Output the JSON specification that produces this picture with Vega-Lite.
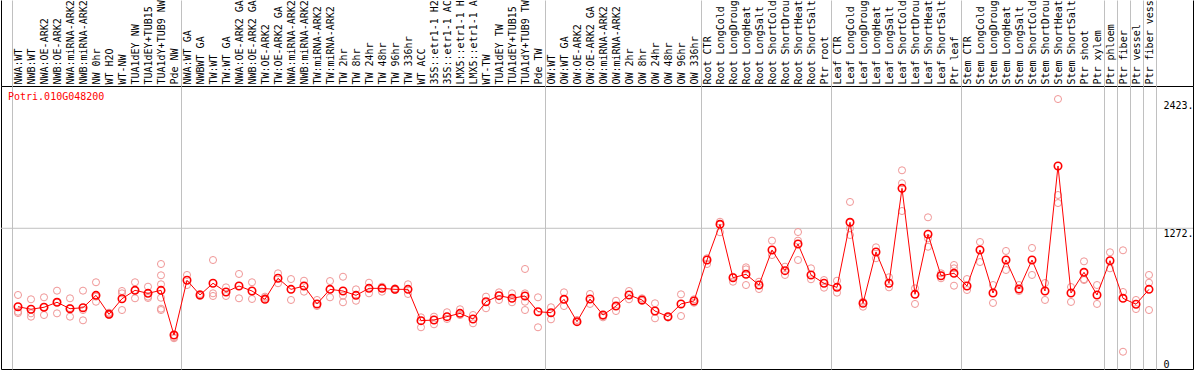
{
  "$schema": "https://vega.github.io/schema/vega-lite/v6.json",
  "width": 1192,
  "height": 283,
  "autosize": {"type": "none"},
  "padding": {"left": 1, "top": 86, "right": 1, "bottom": 1},
  "background": "white",
  "config": {"view": {"stroke": "black", "strokeWidth": 1}, "font": "DejaVu Sans Mono"},
  "datasets": {
    "means": [
      {"col": "01 NWA:WT", "v": 563}, {"col": "02 NWB:WT", "v": 540}, {"col": "03 NWA:OE-ARK2", "v": 558},
      {"col": "04 NWB:OE-ARK2", "v": 603}, {"col": "05 NWA:miRNA-ARK2", "v": 545}, {"col": "06 NWB:miRNA-ARK2", "v": 554},
      {"col": "07 NW 0hr", "v": 666}, {"col": "08 WT H2O", "v": 494}, {"col": "09 WT-NW", "v": 635},
      {"col": "10 TUA1dEY NW", "v": 711}, {"col": "11 TUA1dEY+TUB15", "v": 684}, {"col": "12 TUA1dY+TUB9 NW", "v": 711},
      {"col": "13 Pde NW", "v": 307}, {"col": "14 NWA:WT GA", "v": 802}, {"col": "15 NWBWT GA", "v": 669},
      {"col": "16 TW:WT", "v": 775}, {"col": "17 TW:WT GA", "v": 696}, {"col": "18 NWA:OE-ARK2 GA", "v": 750},
      {"col": "19 NWB:OE-ARK2 GA", "v": 705}, {"col": "20 TW:OE-ARK2", "v": 630}, {"col": "21 TW:OE-ARK2 GA", "v": 820},
      {"col": "22 NWA:miRNA-ARK2", "v": 720}, {"col": "23 NWB:miRNA-ARK2", "v": 750}, {"col": "24 TW:miRNA-ARK2", "v": 588},
      {"col": "25 TW:miRNA-ARK2", "v": 720}, {"col": "26 TW 2hr", "v": 705}, {"col": "27 TW 8hr", "v": 666},
      {"col": "28 TW 24hr", "v": 729}, {"col": "29 TW 48hr", "v": 729}, {"col": "30 TW 96hr", "v": 720},
      {"col": "31 TW 336hr", "v": 720}, {"col": "32 WT ACC", "v": 437}, {"col": "33 35S::etr1-1 H2", "v": 443},
      {"col": "34 35S::etr1-1 AC", "v": 473}, {"col": "35 LMX5::etr1-1 H", "v": 503}, {"col": "36 LMX5::etr1-1 A", "v": 452},
      {"col": "37 WT-TW", "v": 608}, {"col": "38 TUA1dEY TW", "v": 663}, {"col": "39 TUA1dEY+TUB15", "v": 639},
      {"col": "40 TUA1dY+TUB9 TW", "v": 660}, {"col": "41 Pde TW", "v": 518}, {"col": "42 OW:WT", "v": 509},
      {"col": "43 OW:WT GA", "v": 630}, {"col": "44 OW:OE-ARK2", "v": 428}, {"col": "45 OW:OE-ARK2 GA", "v": 633},
      {"col": "46 OW:miRNA-ARK2", "v": 488}, {"col": "47 OW:miRNA-ARK2", "v": 569}, {"col": "48 OW 2hr", "v": 669},
      {"col": "49 OW 8hr", "v": 624}, {"col": "50 OW 24hr", "v": 524}, {"col": "51 OW 48hr", "v": 473},
      {"col": "52 OW 96hr", "v": 588}, {"col": "53 OW 336hr", "v": 615}, {"col": "54 Root CTR", "v": 985},
      {"col": "55 Root LongCold", "v": 1308}, {"col": "56 Root LongDroug", "v": 825}, {"col": "57 Root LongHeat", "v": 856},
      {"col": "58 Root LongSalt", "v": 759}, {"col": "59 Root ShortCold", "v": 1076}, {"col": "60 Root ShortDrou", "v": 889},
      {"col": "61 Root ShortHeat", "v": 1130}, {"col": "62 Root ShortSalt", "v": 850}, {"col": "63 Ptr root", "v": 775},
      {"col": "64 Leaf CTR", "v": 738}, {"col": "65 Leaf LongCold", "v": 1326}, {"col": "66 Leaf LongDroug", "v": 594},
      {"col": "67 Leaf LongHeat", "v": 1058}, {"col": "68 Leaf LongSalt", "v": 775}, {"col": "69 Leaf ShortCold", "v": 1633},
      {"col": "70 Leaf ShortDrou", "v": 675}, {"col": "71 Leaf ShortHeat", "v": 1218}, {"col": "72 Leaf ShortSalt", "v": 843},
      {"col": "73 Ptr leaf", "v": 865}, {"col": "74 Stem CTR", "v": 750}, {"col": "75 Stem LongCold", "v": 1076},
      {"col": "76 Stem LongDroug", "v": 687}, {"col": "77 Stem LongHeat", "v": 985}, {"col": "78 Stem LongSalt", "v": 723},
      {"col": "79 Stem ShortCold", "v": 985}, {"col": "80 Stem ShortDrou", "v": 705}, {"col": "81 Stem ShortHeat", "v": 1835},
      {"col": "82 Stem ShortSalt", "v": 687}, {"col": "83 Ptr shoot", "v": 874}, {"col": "84 Ptr xylem", "v": 669},
      {"col": "85 Ptr phloem", "v": 979}, {"col": "86 Ptr fiber", "v": 639}, {"col": "87 Ptr vessel", "v": 585},
      {"col": "88 Ptr fiber vess", "v": 720}
    ],
    "reps": [
      {"col": "01 NWA:WT", "v": 669}, {"col": "01 NWA:WT", "v": 518}, {"col": "01 NWA:WT", "v": 506},
      {"col": "02 NWB:WT", "v": 630}, {"col": "02 NWB:WT", "v": 503}, {"col": "02 NWB:WT", "v": 473},
      {"col": "03 NWA:OE-ARK2", "v": 648}, {"col": "03 NWA:OE-ARK2", "v": 560}, {"col": "03 NWA:OE-ARK2", "v": 488},
      {"col": "04 NWB:OE-ARK2", "v": 708}, {"col": "04 NWB:OE-ARK2", "v": 606}, {"col": "04 NWB:OE-ARK2", "v": 503},
      {"col": "05 NWA:miRNA-ARK2", "v": 639}, {"col": "05 NWA:miRNA-ARK2", "v": 551}, {"col": "05 NWA:miRNA-ARK2", "v": 473},
      {"col": "06 NWB:miRNA-ARK2", "v": 708}, {"col": "06 NWB:miRNA-ARK2", "v": 533}, {"col": "06 NWB:miRNA-ARK2", "v": 440},
      {"col": "07 NW 0hr", "v": 784}, {"col": "07 NW 0hr", "v": 654}, {"col": "07 NW 0hr", "v": 608},
      {"col": "08 WT H2O", "v": 509}, {"col": "08 WT H2O", "v": 488}, {"col": "08 WT H2O", "v": 502},
      {"col": "09 WT-NW", "v": 705}, {"col": "09 WT-NW", "v": 684}, {"col": "09 WT-NW", "v": 533},
      {"col": "10 TUA1dEY NW", "v": 784}, {"col": "10 TUA1dEY NW", "v": 714}, {"col": "10 TUA1dEY NW", "v": 639},
      {"col": "11 TUA1dEY+TUB15", "v": 744}, {"col": "11 TUA1dEY+TUB15", "v": 654}, {"col": "11 TUA1dEY+TUB15", "v": 642},
      {"col": "12 TUA1dY+TUB9 NW", "v": 949}, {"col": "12 TUA1dY+TUB9 NW", "v": 847}, {"col": "12 TUA1dY+TUB9 NW", "v": 766},
      {"col": "12 TUA1dY+TUB9 NW", "v": 644}, {"col": "12 TUA1dY+TUB9 NW", "v": 545}, {"col": "12 TUA1dY+TUB9 NW", "v": 533},
      {"col": "13 Pde NW", "v": 287}, {"col": "13 Pde NW", "v": 278},
      {"col": "14 NWA:WT GA", "v": 850}, {"col": "14 NWA:WT GA", "v": 759},
      {"col": "15 NWBWT GA", "v": 678}, {"col": "15 NWBWT GA", "v": 660},
      {"col": "16 TW:WT", "v": 985}, {"col": "16 TW:WT", "v": 684}, {"col": "16 TW:WT", "v": 660},
      {"col": "17 TW:WT GA", "v": 738}, {"col": "17 TW:WT GA", "v": 660},
      {"col": "18 NWA:OE-ARK2 GA", "v": 859}, {"col": "18 NWA:OE-ARK2 GA", "v": 639},
      {"col": "19 NWB:OE-ARK2 GA", "v": 784}, {"col": "19 NWB:OE-ARK2 GA", "v": 633},
      {"col": "20 TW:OE-ARK2", "v": 654}, {"col": "20 TW:OE-ARK2", "v": 642},
      {"col": "21 TW:OE-ARK2 GA", "v": 865}, {"col": "21 TW:OE-ARK2 GA", "v": 775},
      {"col": "22 NWA:miRNA-ARK2", "v": 813}, {"col": "22 NWA:miRNA-ARK2", "v": 624},
      {"col": "23 NWB:miRNA-ARK2", "v": 798}, {"col": "23 NWB:miRNA-ARK2", "v": 699},
      {"col": "24 TW:miRNA-ARK2", "v": 624}, {"col": "24 TW:miRNA-ARK2", "v": 569},
      {"col": "25 TW:miRNA-ARK2", "v": 795}, {"col": "25 TW:miRNA-ARK2", "v": 648},
      {"col": "26 TW 2hr", "v": 834}, {"col": "26 TW 2hr", "v": 663}, {"col": "26 TW 2hr", "v": 603},
      {"col": "27 TW 8hr", "v": 720}, {"col": "27 TW 8hr", "v": 617},
      {"col": "28 TW 24hr", "v": 780}, {"col": "28 TW 24hr", "v": 684},
      {"col": "29 TW 48hr", "v": 744}, {"col": "29 TW 48hr", "v": 699},
      {"col": "30 TW 96hr", "v": 729}, {"col": "30 TW 96hr", "v": 714},
      {"col": "31 TW 336hr", "v": 766}, {"col": "31 TW 336hr", "v": 678},
      {"col": "32 WT ACC", "v": 467}, {"col": "32 WT ACC", "v": 377},
      {"col": "33 35S::etr1-1 H2", "v": 473}, {"col": "33 35S::etr1-1 H2", "v": 404},
      {"col": "34 35S::etr1-1 AC", "v": 513}, {"col": "34 35S::etr1-1 AC", "v": 452},
      {"col": "35 LMX5::etr1-1 H", "v": 540}, {"col": "35 LMX5::etr1-1 H", "v": 488},
      {"col": "36 LMX5::etr1-1 A", "v": 488}, {"col": "36 LMX5::etr1-1 A", "v": 413},
      {"col": "37 WT-TW", "v": 654}, {"col": "37 WT-TW", "v": 549},
      {"col": "38 TUA1dEY TW", "v": 693}, {"col": "38 TUA1dEY TW", "v": 624},
      {"col": "39 TUA1dEY+TUB15", "v": 684}, {"col": "39 TUA1dEY+TUB15", "v": 603},
      {"col": "40 TUA1dY+TUB9 TW", "v": 904}, {"col": "40 TUA1dY+TUB9 TW", "v": 684}, {"col": "40 TUA1dY+TUB9 TW", "v": 608}, {"col": "40 TUA1dY+TUB9 TW", "v": 533},
      {"col": "41 Pde TW", "v": 648}, {"col": "41 Pde TW", "v": 377},
      {"col": "42 OW:WT", "v": 558}, {"col": "42 OW:WT", "v": 449},
      {"col": "43 OW:WT GA", "v": 693}, {"col": "43 OW:WT GA", "v": 569},
      {"col": "44 OW:OE-ARK2", "v": 443}, {"col": "44 OW:OE-ARK2", "v": 425},
      {"col": "45 OW:OE-ARK2 GA", "v": 678}, {"col": "45 OW:OE-ARK2 GA", "v": 588},
      {"col": "46 OW:miRNA-ARK2", "v": 467}, {"col": "46 OW:miRNA-ARK2", "v": 479},
      {"col": "47 OW:miRNA-ARK2", "v": 617}, {"col": "47 OW:miRNA-ARK2", "v": 524},
      {"col": "48 OW 2hr", "v": 705}, {"col": "48 OW 2hr", "v": 630},
      {"col": "49 OW 8hr", "v": 639}, {"col": "49 OW 8hr", "v": 615},
      {"col": "50 OW 24hr", "v": 594}, {"col": "50 OW 24hr", "v": 458},
      {"col": "51 OW 48hr", "v": 473}, {"col": "51 OW 48hr", "v": 465},
      {"col": "52 OW 96hr", "v": 675}, {"col": "52 OW 96hr", "v": 479},
      {"col": "53 OW 336hr", "v": 630}, {"col": "53 OW 336hr", "v": 599},
      {"col": "54 Root CTR", "v": 1001}, {"col": "54 Root CTR", "v": 949},
      {"col": "55 Root LongCold", "v": 1331}, {"col": "55 Root LongCold", "v": 1236},
      {"col": "56 Root LongDroug", "v": 789}, {"col": "56 Root LongDroug", "v": 834},
      {"col": "57 Root LongHeat", "v": 919}, {"col": "57 Root LongHeat", "v": 901}, {"col": "57 Root LongHeat", "v": 759},
      {"col": "58 Root LongSalt", "v": 789}, {"col": "58 Root LongSalt", "v": 723},
      {"col": "59 Root ShortCold", "v": 1160}, {"col": "59 Root ShortCold", "v": 1030},
      {"col": "60 Root ShortDrou", "v": 925}, {"col": "60 Root ShortDrou", "v": 850},
      {"col": "61 Root ShortHeat", "v": 1238}, {"col": "61 Root ShortHeat", "v": 1160}, {"col": "61 Root ShortHeat", "v": 985},
      {"col": "62 Root ShortSalt", "v": 910}, {"col": "62 Root ShortSalt", "v": 811},
      {"col": "63 Ptr root", "v": 804}, {"col": "63 Ptr root", "v": 735},
      {"col": "64 Leaf CTR", "v": 798}, {"col": "64 Leaf CTR", "v": 690},
      {"col": "65 Leaf LongCold", "v": 1510}, {"col": "65 Leaf LongCold", "v": 1272}, {"col": "65 Leaf LongCold", "v": 1211},
      {"col": "66 Leaf LongDroug", "v": 563}, {"col": "66 Leaf LongDroug", "v": 608},
      {"col": "67 Leaf LongHeat", "v": 1100}, {"col": "67 Leaf LongHeat", "v": 1001},
      {"col": "68 Leaf LongSalt", "v": 829}, {"col": "68 Leaf LongSalt", "v": 738},
      {"col": "69 Leaf ShortCold", "v": 1796}, {"col": "69 Leaf ShortCold", "v": 1679}, {"col": "69 Leaf ShortCold", "v": 1428},
      {"col": "70 Leaf ShortDrou", "v": 729}, {"col": "70 Leaf ShortDrou", "v": 588},
      {"col": "71 Leaf ShortHeat", "v": 1371}, {"col": "71 Leaf ShortHeat", "v": 1181}, {"col": "71 Leaf ShortHeat", "v": 1105},
      {"col": "72 Leaf ShortSalt", "v": 865}, {"col": "72 Leaf ShortSalt", "v": 820},
      {"col": "73 Ptr leaf", "v": 940}, {"col": "73 Ptr leaf", "v": 910}, {"col": "73 Ptr leaf", "v": 753},
      {"col": "74 Stem CTR", "v": 813}, {"col": "74 Stem CTR", "v": 714},
      {"col": "75 Stem LongCold", "v": 1148}, {"col": "75 Stem LongCold", "v": 967},
      {"col": "76 Stem LongDroug", "v": 759}, {"col": "76 Stem LongDroug", "v": 597},
      {"col": "77 Stem LongHeat", "v": 1067}, {"col": "77 Stem LongHeat", "v": 895},
      {"col": "78 Stem LongSalt", "v": 759}, {"col": "78 Stem LongSalt", "v": 705},
      {"col": "79 Stem ShortCold", "v": 1094}, {"col": "79 Stem ShortCold", "v": 850},
      {"col": "80 Stem ShortDrou", "v": 777}, {"col": "80 Stem ShortDrou", "v": 624},
      {"col": "81 Stem ShortHeat", "v": 2440}, {"col": "81 Stem ShortHeat", "v": 1573}, {"col": "81 Stem ShortHeat", "v": 1500},
      {"col": "82 Stem ShortSalt", "v": 741}, {"col": "82 Stem ShortSalt", "v": 606},
      {"col": "83 Ptr shoot", "v": 973}, {"col": "83 Ptr shoot", "v": 811}, {"col": "83 Ptr shoot", "v": 804},
      {"col": "84 Ptr xylem", "v": 759}, {"col": "84 Ptr xylem", "v": 588},
      {"col": "85 Ptr phloem", "v": 1055}, {"col": "85 Ptr phloem", "v": 910},
      {"col": "86 Ptr fiber", "v": 1073}, {"col": "86 Ptr fiber", "v": 696}, {"col": "86 Ptr fiber", "v": 156},
      {"col": "87 Ptr vessel", "v": 624}, {"col": "87 Ptr vessel", "v": 542},
      {"col": "88 Ptr fiber vess", "v": 850}, {"col": "88 Ptr fiber vess", "v": 780}, {"col": "88 Ptr fiber vess", "v": 533}
    ],
    "gridlines": [{"v": 1272}]
  },
  "layer": [
    {
      "data": {"name": "gridlines"},
      "mark": {"type": "rule", "color": "#c0c0c0", "strokeWidth": 1},
      "encoding": {
        "y": {"field": "v", "type": "quantitative"}
      }
    },
    {
      "layer": [
        {
          "data": {"name": "reps"},
          "mark": {"type": "point", "shape": "circle", "filled": false, "stroke": "#f09696", "strokeWidth": 1, "size": 50, "opacity": 1},
          "encoding": {
            "x": {
              "field": "col", "type": "nominal",
              "scale": {"type": "band", "paddingInner": 0, "paddingOuter": 0, "range": [10.5, 1154.5]},
              "axis": {
                "orient": "top", "title": null, "domain": false,
                "labelAngle": -90, "labelAlign": "left", "labelBaseline": "middle",
                "labelFont": "DejaVu Sans Mono", "labelFontSize": 10, "labelColor": "black",
                "labelPadding": -84, "labelOverlap": false, "labelBound": false, "labelFlush": false, "labelLimit": 0,
                "labelExpr": "substring(datum.label, 3)",
                "ticks": true, "tickBand": "extent", "tickSize": 86, "tickColor": "#c0c0c0", "tickWidth": 1,
                "tickOpacity": {"condition": {"test": "datum.value == null || indexof(['13','41','53','63','73','84','85','86','87','88'], substring(datum.value, 0, 2)) >= 0", "value": 1}, "value": 0},
                "grid": true, "gridColor": "#c0c0c0", "gridWidth": 1,
                "gridOpacity": {"condition": {"test": "datum.value == null || indexof(['13','41','53','63','73','84','85','86','87','88'], substring(datum.value, 0, 2)) >= 0", "value": 1}, "value": 0}
              }
            },
            "y": {
              "field": "v", "type": "quantitative",
              "scale": {"domain": [0, 2558], "nice": false, "zero": true},
              "axis": {
                "orient": "right", "title": null, "domain": false, "ticks": false, "grid": false,
                "values": [0, 1272, 2423],
                "labelExpr": "datum.value == 0 ? '0' : datum.value + '.'",
                "labelAlign": "left",
                "labelBaseline": {"condition": {"test": "datum.value == 0", "value": "bottom"}, "value": "top"},
                "labelPadding": -30, "labelFlush": false, "labelOverlap": false,
                "labelFont": "DejaVu Sans Mono", "labelFontSize": 10, "labelColor": "black"
              }
            }
          }
        },
        {
          "data": {"name": "means"},
          "mark": {"type": "line", "color": "#ff0000", "strokeWidth": 1},
          "encoding": {
            "x": {"field": "col", "type": "nominal"},
            "y": {"field": "v", "type": "quantitative"}
          }
        },
        {
          "data": {"name": "means"},
          "mark": {"type": "point", "shape": "circle", "filled": false, "stroke": "#ff0000", "strokeWidth": 1.6, "size": 55, "opacity": 1},
          "encoding": {
            "x": {"field": "col", "type": "nominal"},
            "y": {"field": "v", "type": "quantitative"}
          }
        }
      ]
    },
    {
      "data": {"values": [{"gene": "Potri.010G048200"}]},
      "mark": {"type": "text", "align": "left", "baseline": "middle", "color": "#ff0000", "font": "DejaVu Sans Mono", "fontSize": 10, "dx": 7},
      "encoding": {
        "x": {
          "datum": 0, "type": "quantitative",
          "scale": {"domain": [0, 1], "nice": false, "zero": false},
          "axis": {"orient": "top", "values": [0, 1], "labels": false, "domain": false, "grid": false, "ticks": true, "tickSize": 86, "tickColor": "black", "tickWidth": 1, "title": null}
        },
        "y": {"datum": 2460, "type": "quantitative"},
        "text": {"field": "gene"}
      }
    }
  ],
  "resolve": {"scale": {"x": "independent"}, "axis": {"x": "independent"}}
}
